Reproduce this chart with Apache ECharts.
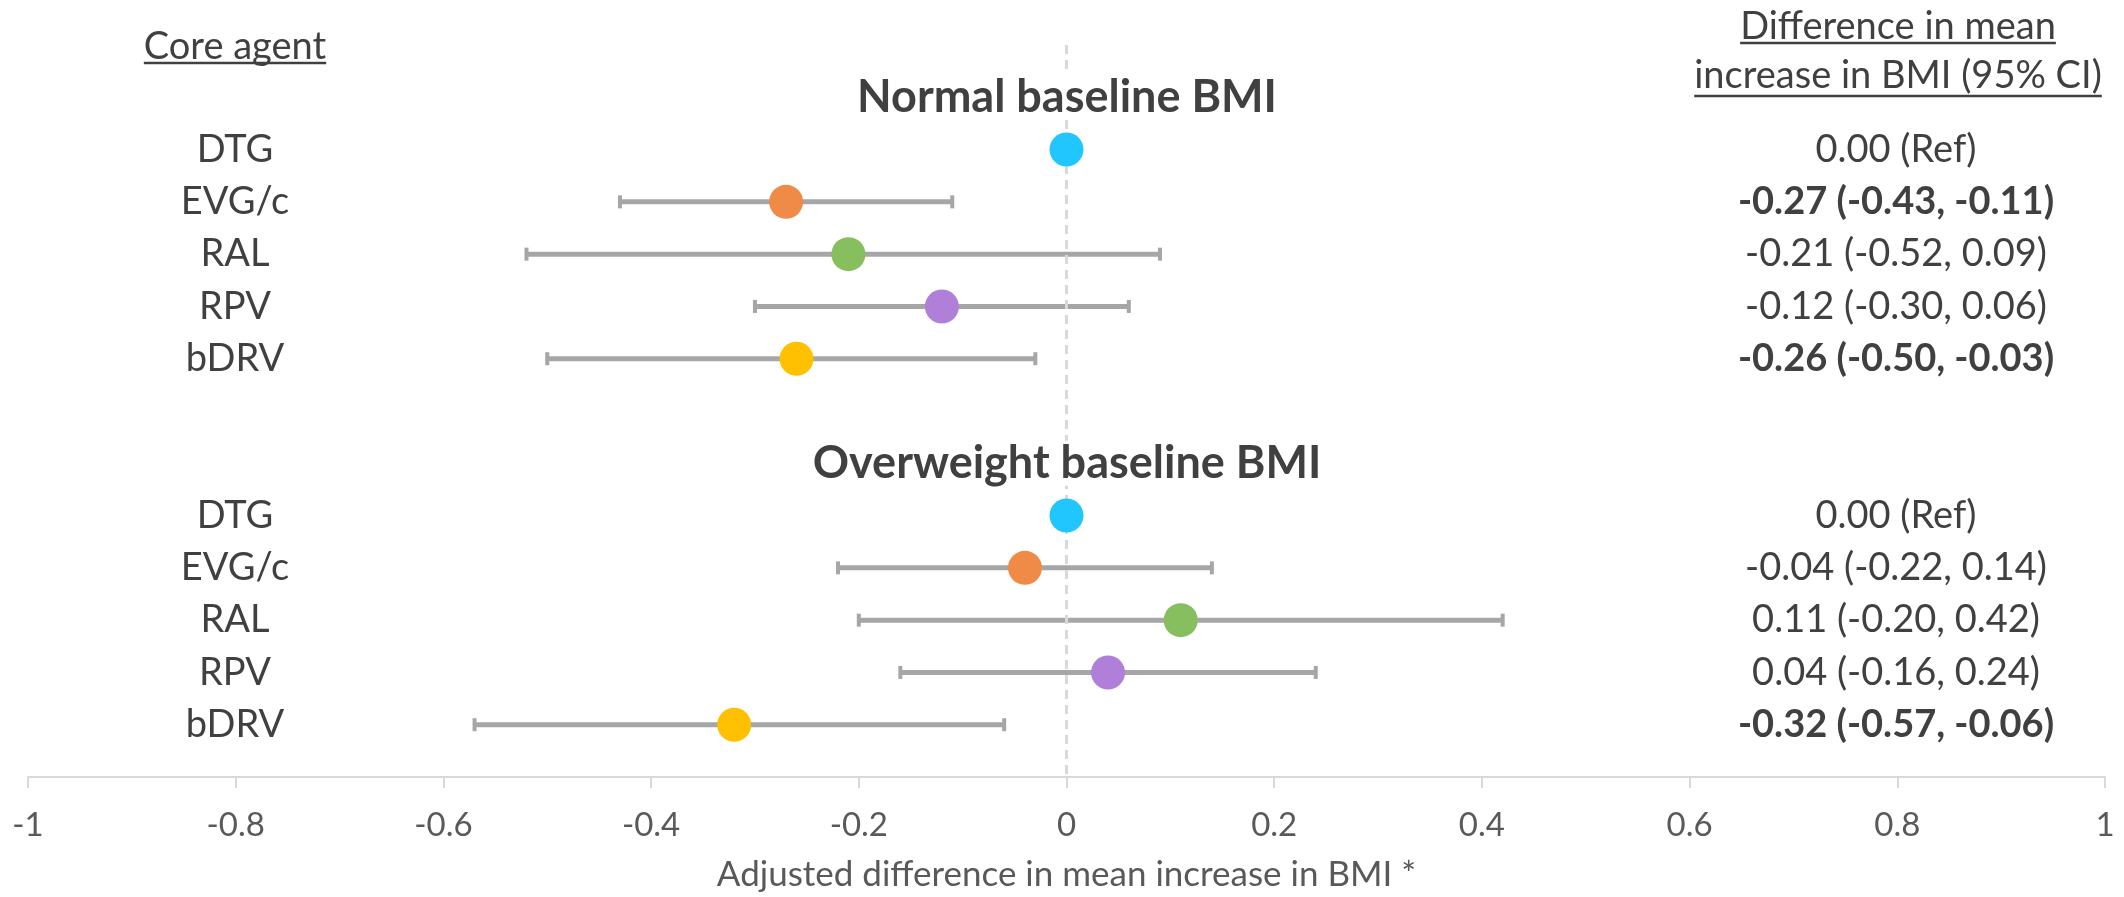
<!DOCTYPE html>
<html><head><meta charset="utf-8">
<script src="https://cdn.jsdelivr.net/npm/echarts@6/dist/echarts.min.js"></script>
<style>html,body{margin:0;padding:0;background:#fff}#c{width:2124px;height:897px}</style>
</head><body><div id="c"></div>
<script>
// ---- data ----
const agents = ['DTG', 'EVG/c', 'RAL', 'RPV', 'bDRV'];
const groupTitles = ['Normal baseline BMI', 'Overweight baseline BMI'];
const agentColors = ['#21C6FE', '#EF8B47', '#87BE5E', '#B07FD9', '#FFC000'];

const normalEst  = [0, -0.27, -0.21, -0.12, -0.26];
const normalLow  = [null, -0.43, -0.52, -0.30, -0.50];
const normalHigh = [null, -0.11, 0.09, 0.06, -0.03];
const normalText = ['0.00 (Ref)', '-0.27 (-0.43, -0.11)', '-0.21 (-0.52, 0.09)', '-0.12 (-0.30, 0.06)', '-0.26 (-0.50, -0.03)'];
const normalBold = [false, true, false, false, true];

const overEst  = [0, -0.04, 0.11, 0.04, -0.32];
const overLow  = [null, -0.22, -0.20, -0.16, -0.57];
const overHigh = [null, 0.14, 0.42, 0.24, -0.06];
const overText = ['0.00 (Ref)', '-0.04 (-0.22, 0.14)', '0.11 (-0.20, 0.42)', '0.04 (-0.16, 0.24)', '-0.32 (-0.57, -0.06)'];
const overBold = [false, false, false, false, true];

const xTickLabels = ['-1', '-0.8', '-0.6', '-0.4', '-0.2', '0', '0.2', '0.4', '0.6', '0.8', '1'];
const xAxisTitle = 'Adjusted difference in mean increase in BMI *';
const leftHeader = 'Core agent';
const rightHeader = ['Difference in mean', 'increase in BMI (95% CI)'];

// ---- layout of rows (slot indices on the y value axis) ----
const groupStart = [0, 7];
const groups = [
  {est: normalEst, low: normalLow, high: normalHigh, text: normalText, bold: normalBold},
  {est: overEst, low: overLow, high: overHigh, text: overText, bold: overBold}
];
const leftMap = {}, rightMap = {}, titleMap = {};
const pointData = [], barData = [];
groups.forEach((g, gi) => {
  titleMap[groupStart[gi]] = groupTitles[gi];
  agents.forEach((a, i) => {
    const slot = groupStart[gi] + 1 + i;
    leftMap[slot] = a;
    rightMap[slot] = (g.bold[i] ? '{b|' : '{n|') + g.text[i] + '}';
    pointData.push({value: [g.est[i], slot], itemStyle: {color: agentColors[i], opacity: 1}});
    if (g.low[i] !== null) barData.push([g.low[i], g.high[i], slot]);
  });
});

const FONT = 'Lato';
const chart = echarts.init(document.getElementById('c'));

const baseY = {
  type: 'value', min: -1, max: 13, interval: 1, inverse: true,
  splitLine: {show: false}, axisTick: {show: false},
  axisLine: {show: false, onZero: false}
};

function measure(text, font) {
  const c = document.createElement('canvas').getContext('2d');
  c.font = font;
  return c.measureText(text).width;
}

const hdrSize = 38;
const hdrFont = hdrSize + 'px ' + FONT;
const graphics = [];
function header(text, cx, cy, uy) {
  const w = measure(text, hdrFont);
  graphics.push({type: 'text', x: cx, y: cy,
    style: {text: text, font: hdrFont, fill: '#404040', align: 'center', verticalAlign: 'middle'}});
  graphics.push({type: 'line', shape: {x1: cx - w / 2, y1: uy, x2: cx + w / 2, y2: uy},
    style: {stroke: '#404040', lineWidth: 2.5}});
}
header(leftHeader, 235, 47, 63);
header(rightHeader[0], 1898, 27, 43);
header(rightHeader[1], 1898, 76, 96);

chart.setOption({
  animation: false,
  backgroundColor: '#ffffff',
  grid: {left: 28, right: 19, top: 45, bottom: 113, containLabel: false},
  xAxis: {
    type: 'value', min: -1, max: 1, interval: 0.2,
    splitLine: {show: false},
    axisLine: {onZero: false, lineStyle: {color: '#d9d9d9', width: 2}},
    axisTick: {length: 11, lineStyle: {color: '#d9d9d9', width: 2}},
    axisLabel: {
      fontFamily: FONT, fontSize: 33, color: '#595959', margin: 32,
      formatter: v => xTickLabels[Math.round((v + 1) / 0.2)]
    },
    name: xAxisTitle, nameLocation: 'middle', nameGap: 80,
    nameTextStyle: {fontFamily: FONT, fontSize: 35, color: '#595959'}
  },
  yAxis: [
    Object.assign({}, baseY, {axisLabel: {show: false}}),
    Object.assign({}, baseY, {
      position: 'left', offset: -207,
      axisLabel: {align: 'center', margin: 0, fontFamily: FONT, fontSize: hdrSize, color: '#404040',
        formatter: v => leftMap[v] || ''}
    }),
    Object.assign({}, baseY, {
      position: 'right', offset: -209,
      axisLabel: {align: 'center', margin: 0, formatter: v => rightMap[v] || '',
        rich: {
          n: {fontFamily: FONT, fontSize: hdrSize, color: '#404040'},
          b: {fontFamily: FONT, fontSize: hdrSize, color: '#404040', fontWeight: 'bold'}
        }}
    }),
    Object.assign({}, baseY, {
      position: 'left', offset: -1039, z: 20,
      axisLabel: {align: 'center', margin: 0, fontFamily: FONT, fontSize: 45, fontWeight: 'bold',
        color: '#404040', backgroundColor: '#ffffff', padding: [0, 4],
        formatter: v => titleMap[v] || ''}
    })
  ],
  graphic: graphics,
  series: [
    {
      type: 'custom', yAxisIndex: 0, z: 2, silent: true,
      data: barData,
      encode: {x: [0, 1], y: 2},
      renderItem: function (params, api) {
        const y = api.value(2);
        const lo = api.coord([api.value(0), y]);
        const hi = api.coord([api.value(1), y]);
        const st = {fill: '#a6a6a6'};
        return {type: 'group', children: [
          {type: 'line', shape: {x1: lo[0], y1: lo[1], x2: hi[0], y2: hi[1]},
            style: {stroke: '#a6a6a6', lineWidth: 5}},
          {type: 'rect', shape: {x: lo[0] - 2, y: lo[1] - 6.5, width: 4, height: 13}, style: st},
          {type: 'rect', shape: {x: hi[0] - 2, y: hi[1] - 6.5, width: 4, height: 13}, style: st}
        ]};
      }
    },
    {
      type: 'scatter', yAxisIndex: 0, z: 3, symbolSize: 0, silent: true,
      data: [],
      markLine: {
        silent: true, z: 3, symbol: ['none', 'none'], label: {show: false},
        lineStyle: {color: '#d9d9d9', type: [9, 6], width: 3},
        data: [{xAxis: 0}]
      }
    },
    {
      type: 'scatter', yAxisIndex: 0, z: 8, symbol: 'circle', symbolSize: 34,
      itemStyle: {opacity: 1},
      data: pointData
    }
  ]
});
</script></body></html>
